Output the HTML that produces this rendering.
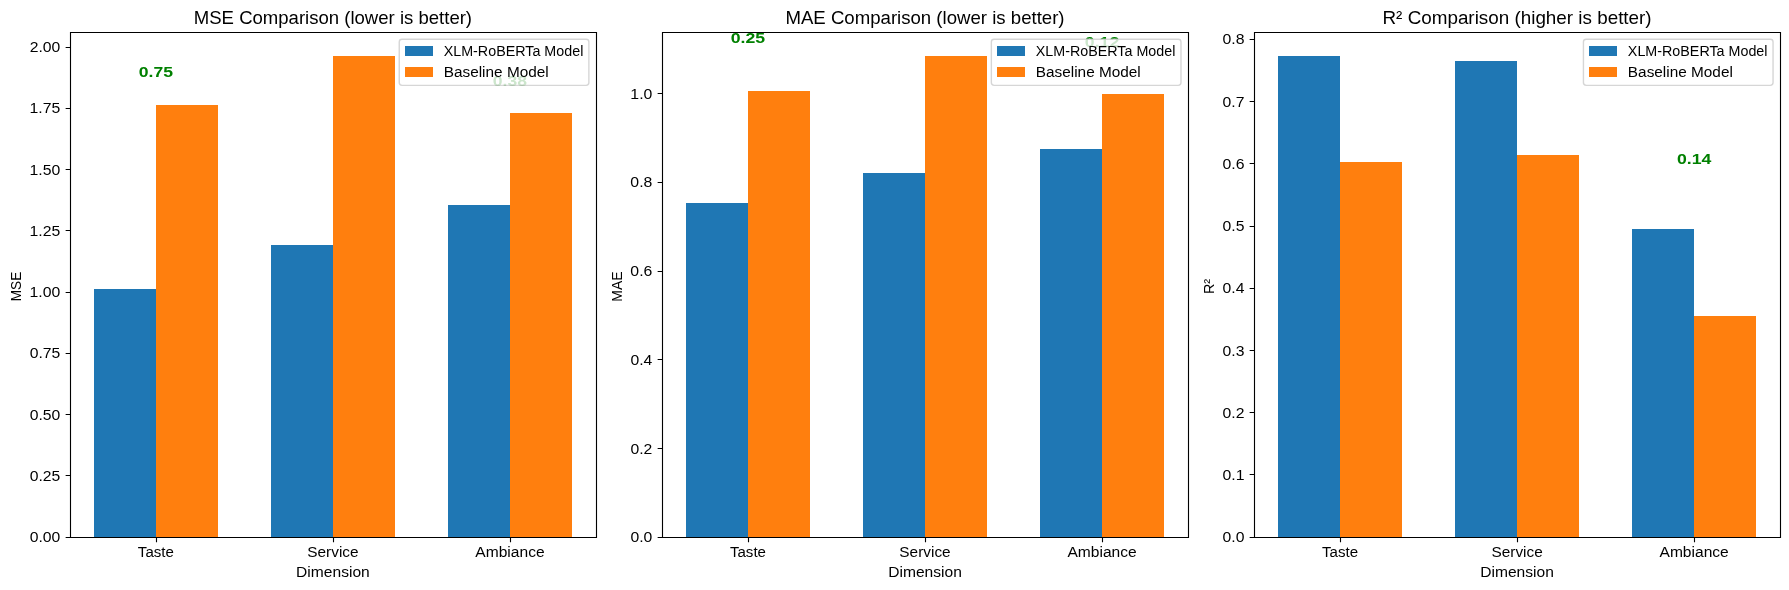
<!DOCTYPE html>
<html><head><meta charset="utf-8"><style>
html,body{margin:0;padding:0;background:#fff;}
svg{display:block;font-family:"Liberation Sans",sans-serif;will-change:transform;}
</style></head><body>
<svg width="1789" height="590" viewBox="0 0 1789 590">
<rect width="1789" height="590" fill="#fff"/>
<rect x="94" y="289" width="62" height="248" fill="#1f77b4"/>
<rect x="271" y="245" width="62" height="292" fill="#1f77b4"/>
<rect x="448" y="205" width="62" height="332" fill="#1f77b4"/>
<rect x="156" y="105" width="62" height="432" fill="#ff7f0e"/>
<rect x="333" y="56" width="62" height="481" fill="#ff7f0e"/>
<rect x="510" y="113" width="62" height="424" fill="#ff7f0e"/>
<text x="138.77" y="76.86" font-size="14.722" font-weight="bold" fill="#008000" textLength="34.25" lengthAdjust="spacingAndGlyphs">0.75</text>
<text x="492.84" y="85.71" font-size="14.722" font-weight="bold" fill="#008000" textLength="34.25" lengthAdjust="spacingAndGlyphs">0.38</text>
<path d="M70.5 537.5V32.5M596.5 537.5V32.5M69.944 32.5H597.056M69.944 537.5H597.056" stroke="#000" stroke-width="1.111" fill="none"/>
<path d="M156.5 537.5v4.861M333.5 537.5v4.861M510.5 537.5v4.861M70.5 537.5h-4.861M70.5 475.5h-4.861M70.5 414.5h-4.861M70.5 353.5h-4.861M70.5 292.5h-4.861M70.5 230.5h-4.861M70.5 169.5h-4.861M70.5 108.5h-4.861M70.5 47.5h-4.861" stroke="#000" stroke-width="1.111" fill="none"/>
<text x="137.89" y="557.44" font-size="14.722" font-weight="normal" fill="#000000" textLength="36.00" lengthAdjust="spacingAndGlyphs">Taste</text>
<text x="307.31" y="557.44" font-size="14.722" font-weight="normal" fill="#000000" textLength="51.25" lengthAdjust="spacingAndGlyphs">Service</text>
<text x="475.34" y="557.44" font-size="14.722" font-weight="normal" fill="#000000" textLength="69.25" lengthAdjust="spacingAndGlyphs">Ambiance</text>
<text x="29.68" y="542.22" font-size="14.722" font-weight="normal" fill="#000000" textLength="30.62" lengthAdjust="spacingAndGlyphs">0.00</text>
<text x="29.68" y="480.95" font-size="14.722" font-weight="normal" fill="#000000" textLength="30.62" lengthAdjust="spacingAndGlyphs">0.25</text>
<text x="29.68" y="419.68" font-size="14.722" font-weight="normal" fill="#000000" textLength="30.62" lengthAdjust="spacingAndGlyphs">0.50</text>
<text x="29.68" y="358.41" font-size="14.722" font-weight="normal" fill="#000000" textLength="30.62" lengthAdjust="spacingAndGlyphs">0.75</text>
<text x="29.56" y="297.14" font-size="14.722" font-weight="normal" fill="#000000" textLength="30.75" lengthAdjust="spacingAndGlyphs">1.00</text>
<text x="29.56" y="235.86" font-size="14.722" font-weight="normal" fill="#000000" textLength="30.75" lengthAdjust="spacingAndGlyphs">1.25</text>
<text x="29.56" y="174.59" font-size="14.722" font-weight="normal" fill="#000000" textLength="30.75" lengthAdjust="spacingAndGlyphs">1.50</text>
<text x="29.56" y="113.32" font-size="14.722" font-weight="normal" fill="#000000" textLength="30.75" lengthAdjust="spacingAndGlyphs">1.75</text>
<text x="29.68" y="52.05" font-size="14.722" font-weight="normal" fill="#000000" textLength="30.62" lengthAdjust="spacingAndGlyphs">2.00</text>
<text x="296.12" y="577.00" font-size="14.722" font-weight="normal" fill="#000000" textLength="73.62" lengthAdjust="spacingAndGlyphs">Dimension</text>
<text transform="translate(21.00,301.28) rotate(-90)" x="0" y="0" font-size="14.722" font-weight="normal" fill="#000000" textLength="29.50" lengthAdjust="spacingAndGlyphs">MSE</text>
<text x="193.81" y="24.00" font-size="17.667" font-weight="normal" fill="#000000" textLength="278.25" lengthAdjust="spacingAndGlyphs">MSE Comparison (lower is better)</text>
<rect x="399.26" y="39.28" width="189.62" height="46.06" rx="2.78" ry="2.78" fill="#ffffff" fill-opacity="0.8" stroke="#cccccc" stroke-opacity="0.8" stroke-width="1.389"/>
<rect x="405" y="46" width="28" height="10" fill="#1f77b4"/>
<rect x="405" y="67" width="28" height="10" fill="#ff7f0e"/>
<text x="443.71" y="55.83" font-size="14.722" font-weight="normal" fill="#000000" textLength="139.62" lengthAdjust="spacingAndGlyphs">XLM-RoBERTa Model</text>
<text x="443.71" y="76.78" font-size="14.722" font-weight="normal" fill="#000000" textLength="105.00" lengthAdjust="spacingAndGlyphs">Baseline Model</text>
<rect x="686" y="203" width="62" height="334" fill="#1f77b4"/>
<rect x="863" y="173" width="62" height="364" fill="#1f77b4"/>
<rect x="1040" y="149" width="62" height="388" fill="#1f77b4"/>
<rect x="748" y="91" width="62" height="446" fill="#ff7f0e"/>
<rect x="925" y="56" width="62" height="481" fill="#ff7f0e"/>
<rect x="1102" y="94" width="62" height="443" fill="#ff7f0e"/>
<text x="730.79" y="42.99" font-size="14.722" font-weight="bold" fill="#008000" textLength="34.38" lengthAdjust="spacingAndGlyphs">0.25</text>
<text x="1084.87" y="47.14" font-size="14.722" font-weight="bold" fill="#008000" textLength="34.38" lengthAdjust="spacingAndGlyphs">0.12</text>
<path d="M662.5 537.5V32.5M1188.5 537.5V32.5M661.944 32.5H1189.056M661.944 537.5H1189.056" stroke="#000" stroke-width="1.111" fill="none"/>
<path d="M748.5 537.5v4.861M925.5 537.5v4.861M1102.5 537.5v4.861M662.5 537.5h-4.861M662.5 448.5h-4.861M662.5 359.5h-4.861M662.5 271.5h-4.861M662.5 182.5h-4.861M662.5 93.5h-4.861" stroke="#000" stroke-width="1.111" fill="none"/>
<text x="729.97" y="557.44" font-size="14.722" font-weight="normal" fill="#000000" textLength="36.00" lengthAdjust="spacingAndGlyphs">Taste</text>
<text x="899.39" y="557.44" font-size="14.722" font-weight="normal" fill="#000000" textLength="51.25" lengthAdjust="spacingAndGlyphs">Service</text>
<text x="1067.43" y="557.44" font-size="14.722" font-weight="normal" fill="#000000" textLength="69.25" lengthAdjust="spacingAndGlyphs">Ambiance</text>
<text x="630.51" y="542.22" font-size="14.722" font-weight="normal" fill="#000000" textLength="21.88" lengthAdjust="spacingAndGlyphs">0.0</text>
<text x="630.51" y="453.51" font-size="14.722" font-weight="normal" fill="#000000" textLength="21.88" lengthAdjust="spacingAndGlyphs">0.2</text>
<text x="630.51" y="364.80" font-size="14.722" font-weight="normal" fill="#000000" textLength="21.88" lengthAdjust="spacingAndGlyphs">0.4</text>
<text x="630.39" y="276.09" font-size="14.722" font-weight="normal" fill="#000000" textLength="22.00" lengthAdjust="spacingAndGlyphs">0.6</text>
<text x="630.39" y="187.38" font-size="14.722" font-weight="normal" fill="#000000" textLength="22.00" lengthAdjust="spacingAndGlyphs">0.8</text>
<text x="630.39" y="98.67" font-size="14.722" font-weight="normal" fill="#000000" textLength="22.00" lengthAdjust="spacingAndGlyphs">1.0</text>
<text x="888.20" y="577.00" font-size="14.722" font-weight="normal" fill="#000000" textLength="73.62" lengthAdjust="spacingAndGlyphs">Dimension</text>
<text transform="translate(621.83,301.65) rotate(-90)" x="0" y="0" font-size="14.722" font-weight="normal" fill="#000000" textLength="30.25" lengthAdjust="spacingAndGlyphs">MAE</text>
<text x="785.45" y="24.00" font-size="17.667" font-weight="normal" fill="#000000" textLength="279.12" lengthAdjust="spacingAndGlyphs">MAE Comparison (lower is better)</text>
<rect x="991.35" y="39.28" width="189.62" height="46.06" rx="2.78" ry="2.78" fill="#ffffff" fill-opacity="0.8" stroke="#cccccc" stroke-opacity="0.8" stroke-width="1.389"/>
<rect x="997" y="46" width="28" height="10" fill="#1f77b4"/>
<rect x="997" y="67" width="28" height="10" fill="#ff7f0e"/>
<text x="1035.79" y="55.83" font-size="14.722" font-weight="normal" fill="#000000" textLength="139.62" lengthAdjust="spacingAndGlyphs">XLM-RoBERTa Model</text>
<text x="1035.79" y="76.78" font-size="14.722" font-weight="normal" fill="#000000" textLength="105.00" lengthAdjust="spacingAndGlyphs">Baseline Model</text>
<rect x="1278" y="56" width="62" height="481" fill="#1f77b4"/>
<rect x="1455" y="61" width="62" height="476" fill="#1f77b4"/>
<rect x="1632" y="229" width="62" height="308" fill="#1f77b4"/>
<rect x="1340" y="162" width="62" height="375" fill="#ff7f0e"/>
<rect x="1517" y="155" width="62" height="382" fill="#ff7f0e"/>
<rect x="1694" y="316" width="62" height="221" fill="#ff7f0e"/>
<text x="1676.95" y="164.11" font-size="14.722" font-weight="bold" fill="#008000" textLength="34.38" lengthAdjust="spacingAndGlyphs">0.14</text>
<path d="M1254.5 537.5V32.5M1780.5 537.5V32.5M1253.944 32.5H1781.056M1253.944 537.5H1781.056" stroke="#000" stroke-width="1.111" fill="none"/>
<path d="M1340.5 537.5v4.861M1517.5 537.5v4.861M1694.5 537.5v4.861M1254.5 537.5h-4.861M1254.5 474.5h-4.861M1254.5 412.5h-4.861M1254.5 350.5h-4.861M1254.5 288.5h-4.861M1254.5 226.5h-4.861M1254.5 163.5h-4.861M1254.5 101.5h-4.861M1254.5 39.5h-4.861" stroke="#000" stroke-width="1.111" fill="none"/>
<text x="1322.06" y="557.44" font-size="14.722" font-weight="normal" fill="#000000" textLength="36.00" lengthAdjust="spacingAndGlyphs">Taste</text>
<text x="1491.47" y="557.44" font-size="14.722" font-weight="normal" fill="#000000" textLength="51.25" lengthAdjust="spacingAndGlyphs">Service</text>
<text x="1659.51" y="557.44" font-size="14.722" font-weight="normal" fill="#000000" textLength="69.25" lengthAdjust="spacingAndGlyphs">Ambiance</text>
<text x="1222.60" y="542.22" font-size="14.722" font-weight="normal" fill="#000000" textLength="21.88" lengthAdjust="spacingAndGlyphs">0.0</text>
<text x="1222.47" y="480.00" font-size="14.722" font-weight="normal" fill="#000000" textLength="22.00" lengthAdjust="spacingAndGlyphs">0.1</text>
<text x="1222.60" y="417.77" font-size="14.722" font-weight="normal" fill="#000000" textLength="21.88" lengthAdjust="spacingAndGlyphs">0.2</text>
<text x="1222.60" y="355.55" font-size="14.722" font-weight="normal" fill="#000000" textLength="21.88" lengthAdjust="spacingAndGlyphs">0.3</text>
<text x="1222.60" y="293.33" font-size="14.722" font-weight="normal" fill="#000000" textLength="21.88" lengthAdjust="spacingAndGlyphs">0.4</text>
<text x="1222.60" y="231.10" font-size="14.722" font-weight="normal" fill="#000000" textLength="21.88" lengthAdjust="spacingAndGlyphs">0.5</text>
<text x="1222.47" y="168.88" font-size="14.722" font-weight="normal" fill="#000000" textLength="22.00" lengthAdjust="spacingAndGlyphs">0.6</text>
<text x="1222.60" y="106.65" font-size="14.722" font-weight="normal" fill="#000000" textLength="21.88" lengthAdjust="spacingAndGlyphs">0.7</text>
<text x="1222.47" y="44.43" font-size="14.722" font-weight="normal" fill="#000000" textLength="22.00" lengthAdjust="spacingAndGlyphs">0.8</text>
<text x="1480.28" y="577.00" font-size="14.722" font-weight="normal" fill="#000000" textLength="73.62" lengthAdjust="spacingAndGlyphs">Dimension</text>
<text transform="translate(1213.92,294.09) rotate(-90)" x="0" y="0" font-size="14.722" font-weight="normal" fill="#000000" textLength="15.12" lengthAdjust="spacingAndGlyphs">R²</text>
<text x="1382.53" y="24.00" font-size="17.667" font-weight="normal" fill="#000000" textLength="269.12" lengthAdjust="spacingAndGlyphs">R² Comparison (higher is better)</text>
<rect x="1583.43" y="39.28" width="189.62" height="46.06" rx="2.78" ry="2.78" fill="#ffffff" fill-opacity="0.8" stroke="#cccccc" stroke-opacity="0.8" stroke-width="1.389"/>
<rect x="1589" y="46" width="28" height="10" fill="#1f77b4"/>
<rect x="1589" y="67" width="28" height="10" fill="#ff7f0e"/>
<text x="1627.87" y="55.83" font-size="14.722" font-weight="normal" fill="#000000" textLength="139.62" lengthAdjust="spacingAndGlyphs">XLM-RoBERTa Model</text>
<text x="1627.87" y="76.78" font-size="14.722" font-weight="normal" fill="#000000" textLength="105.00" lengthAdjust="spacingAndGlyphs">Baseline Model</text>
</svg>
</body></html>
